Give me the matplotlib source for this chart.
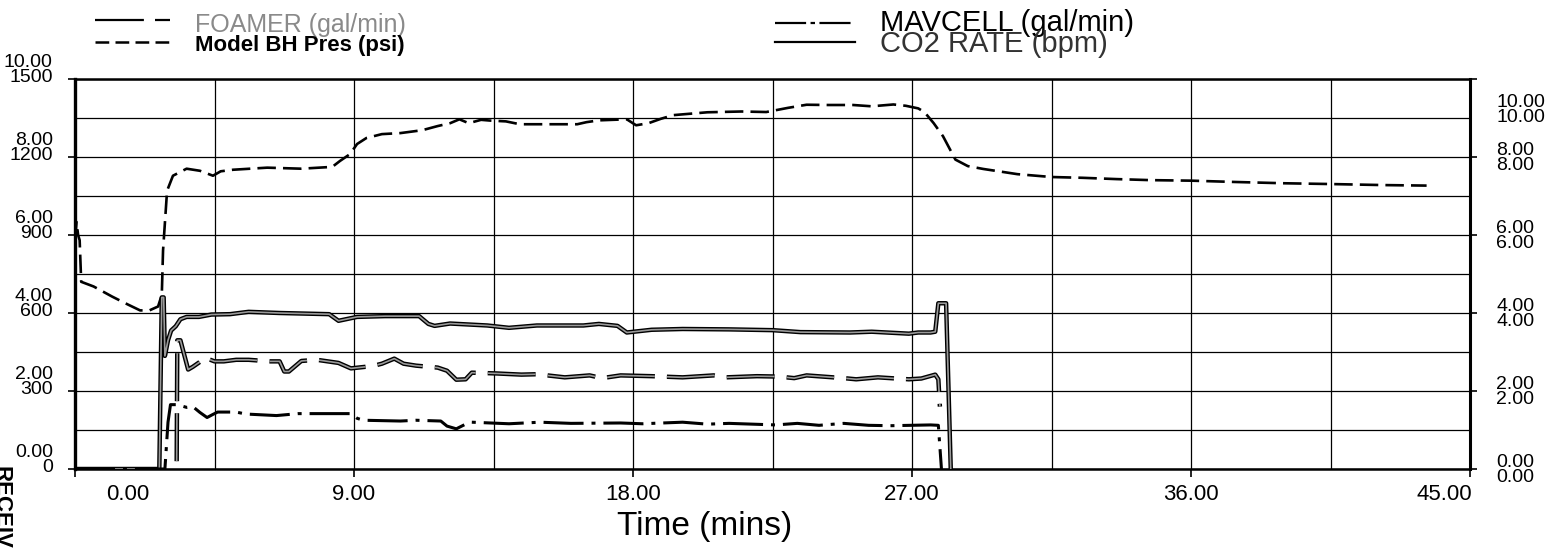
import numpy as np
import matplotlib.pyplot as plt
import matplotlib.patheffects as pe
from matplotlib.lines import Line2D
from matplotlib.transforms import ScaledTranslation

plt.rcParams['font.family'] = ['Liberation Sans', 'DejaVu Sans']

W, H = 1556, 548

# Model BH Pres (psi) - left axis
bh_time = [0.0, 0.05, 0.1, 0.15, 0.2, 0.6, 1.2, 1.7, 2.1, 2.4, 2.68, 2.8, 2.84, 2.97,
           3.16, 3.6, 4.03, 4.45, 4.7, 5.1, 6.2, 7.3, 8.3, 8.55, 8.87, 9.1, 9.4, 9.9,
           10.5, 11.2, 11.7, 12.1, 12.4, 12.7, 13.1, 13.4, 13.9, 14.35, 15.5, 16.2,
           16.5, 16.9, 17.8, 18.1, 18.5, 18.9, 19.3, 20.4, 21.5, 22.3, 23.0, 23.6,
           24.3, 25.1, 25.7, 26.4, 26.8, 27.2, 27.4, 27.7, 28.0, 28.2, 28.4, 28.8,
           29.3, 30.4, 31.5, 32.5, 33.6, 34.7, 36.0, 37.4, 39.0, 40.5, 42.2, 43.6]
bh_psi = [880, 950, 900, 880, 720, 702, 663, 633, 610, 610, 625, 670, 840, 1070,
          1128, 1155, 1147, 1128, 1145, 1151, 1159, 1155, 1162, 1185, 1211, 1250, 1273, 1288,
          1292, 1303, 1319, 1330, 1345, 1330, 1343, 1340, 1337, 1326, 1326, 1326,
          1334, 1341, 1345, 1322, 1330, 1347, 1361, 1372, 1375, 1373, 1389, 1401,
          1400, 1400, 1395, 1402, 1397, 1387, 1373, 1330, 1280, 1235, 1190, 1165,
          1154, 1134, 1123, 1120, 1115, 1111, 1109, 1104, 1099, 1096, 1092, 1090]

# CO2 RATE (bpm) - right axis
co2_time = [0.0, 2.72, 2.8, 2.86, 2.9, 3.0, 3.1, 3.25, 3.4, 3.6, 4.0, 4.4, 5.0, 5.6,
            6.6, 8.2, 8.5, 9.1, 10.0, 11.1, 11.4, 11.6, 12.1, 13.3, 14.0, 14.9, 16.4,
            16.9, 17.5, 17.8, 18.6, 19.6, 21.1, 22.5, 23.4, 25.0, 25.7, 26.9, 27.2,
            27.6, 27.75, 27.85, 28.1, 28.25]
co2_rate = [0.0, 0.0, 4.4, 4.4, 2.9, 3.3, 3.55, 3.66, 3.84, 3.9, 3.9, 3.96, 3.97, 4.03,
            4.0, 3.97, 3.8, 3.9, 3.92, 3.92, 3.72, 3.67, 3.73, 3.68, 3.62, 3.68, 3.68,
            3.72, 3.67, 3.5, 3.57, 3.59, 3.58, 3.56, 3.51, 3.5, 3.52, 3.47, 3.5,
            3.5, 3.52, 4.25, 4.25, 0.0]

# FOAMER (gal/min) - right axis
foam_time = [3.28, 3.3, 3.4, 3.45, 3.65, 3.8, 4.0, 4.2, 4.5, 4.8, 5.2, 5.6, 6.3, 6.6,
             6.75, 6.9, 7.3, 7.8, 8.5, 8.9, 9.6, 9.9, 10.3, 10.6, 11.0, 11.7, 12.0,
             12.3, 12.6, 12.8, 13.6, 14.4, 14.9, 15.8, 16.6, 17.0, 17.6, 18.6, 19.6,
             20.6, 21.0, 22.0, 22.7, 23.2, 23.6, 24.8, 25.2, 25.9, 26.9, 27.3, 27.75,
             27.85, 27.9]
foam_rate = [0.2, 3.3, 3.3, 3.15, 2.55, 2.62, 2.73, 2.85, 2.76, 2.76, 2.8, 2.8, 2.76, 2.76,
             2.5, 2.5, 2.77, 2.8, 2.72, 2.58, 2.64, 2.7, 2.83, 2.7, 2.65, 2.6, 2.52,
             2.29, 2.3, 2.47, 2.45, 2.42, 2.43, 2.35, 2.4, 2.33, 2.4, 2.38, 2.35,
             2.4, 2.35, 2.38, 2.37, 2.33, 2.4, 2.33, 2.3, 2.35, 2.3, 2.32, 2.42,
             2.3, 1.6]

# MAVCELL (gal/min) - right axis
mav_time = [0.0, 2.9, 3.0, 3.08, 3.3, 3.6, 3.8, 4.03, 4.26, 4.45, 4.6, 5.2, 5.5, 6.5,
            7.2, 8.2, 8.9, 9.1, 9.3, 10.5, 11.0, 11.8, 12.0, 12.3, 12.6, 12.8, 14.0,
            15.0, 16.0, 17.6, 18.3, 19.6, 20.4, 21.1, 22.6, 23.3, 24.0, 24.8, 25.6,
            26.3, 27.6, 27.85, 27.95]
mav_rate = [0.0, 0.0, 1.2, 1.65, 1.65, 1.58, 1.6, 1.45, 1.32, 1.4, 1.46, 1.46, 1.41, 1.37,
            1.42, 1.42, 1.42, 1.3, 1.25, 1.23, 1.25, 1.23, 1.1, 1.03, 1.15, 1.2, 1.16,
            1.2, 1.17, 1.18, 1.16, 1.2, 1.15, 1.17, 1.13, 1.17, 1.12, 1.17, 1.12,
            1.11, 1.13, 1.12, 0.0]

psi_ticks = [0, 300, 600, 900, 1200, 1500]
rate_ticks = [0, 2, 4, 6, 8, 10]
time_ticks = [0, 9, 18, 27, 36, 45]

fig = plt.figure(figsize=(W / 100, H / 100), dpi=100)
ax = fig.add_axes([75 / W, 1 - 469 / H, 1395 / W, 390 / H])
ax2 = ax.twinx()

ax.set_xlim(0, 45)
ax.set_ylim(0, 1500)
ax2.set_ylim(0, 10)

# grid every 4.5 min and every 150 psi
ax.set_xticks(time_ticks)
ax.set_xticks(np.arange(4.5, 45, 9), minor=True)
ax.set_yticks(psi_ticks)
ax.set_yticks(np.arange(150, 1500, 300), minor=True)
ax.grid(which='both', color='black', linewidth=0.9)
ax.tick_params(which='minor', length=0)
ax2.set_yticks(rate_ticks)

ax.set_yticklabels([f"{r:.2f}\n{p}" for r, p in zip(rate_ticks, psi_ticks)],
                   linespacing=0.85)
ax2.set_yticklabels([f"{r:.2f}\n{r:.2f}" for r in rate_ticks], linespacing=0.85)
ax.set_xticklabels([f"{t:.2f}" for t in time_ticks])

ax.tick_params(axis='y', which='major', direction='out', length=5, width=1.2,
               pad=11, labelsize=14)
ax2.tick_params(axis='y', direction='out', length=5, width=1.2, pad=14, labelsize=14)
ax.tick_params(axis='x', which='major', direction='out', length=6, width=1.2,
               pad=5, labelsize=16)

shift_up = ScaledTranslation(0, 10 / 100, fig.dpi_scale_trans)
for lab in ax.get_yticklabels():
    lab.set_transform(lab.get_transform() + shift_up)
rl = ax2.get_yticklabels()
rl[-1].set_transform(rl[-1].get_transform() + ScaledTranslation(0, -30 / 100, fig.dpi_scale_trans))
xl = ax.get_xticklabels()
xl[0].set_transform(xl[0].get_transform() + ScaledTranslation(53 / 100, 0, fig.dpi_scale_trans))
xl[-1].set_transform(xl[-1].get_transform() + ScaledTranslation(-26 / 100, 0, fig.dpi_scale_trans))

for s in ax.spines.values():
    s.set_linewidth(1.8)
ax.spines['left'].set_linewidth(2.4)
for name, s in ax2.spines.items():
    s.set_visible(name == 'right')
ax2.spines['right'].set_linewidth(2.2)

ax.set_xlabel('Time (mins)', fontsize=24)
ax.xaxis.set_label_coords((705 - 75) / 1395, -(527 - 469) / 390)
ax.xaxis.label.set_va('center')

hollow = [pe.Stroke(linewidth=3.2, foreground='black'), pe.Normal()]

ax.plot(bh_time, bh_psi, color='black', linewidth=1.9, dashes=(7.0, 2.7))
ax2.plot(co2_time, co2_rate, color='#9a9a9a', linewidth=1.2, path_effects=hollow)
ax2.plot(foam_time, foam_rate, color='#9a9a9a', linewidth=1.2, dashes=(28.8, 7.2),
         path_effects=hollow)
ax2.plot(mav_time, mav_rate, color='black', linewidth=2.2, dashes=(13.1, 2.6, 1.3, 2.6))


# legend rows drawn in figure pixels
def legend_row(x0, x1, y, tx, ty, text, size, color, weight='normal', **line_kw):
    fig.add_artist(Line2D([x0 / W, x1 / W], [1 - y / H] * 2, transform=fig.transFigure,
                          color='black', **line_kw))
    fig.text(tx / W, 1 - ty / H, text, fontsize=size, color=color, weight=weight,
             va='baseline', ha='left')


legend_row(95, 170, 20, 195, 32, 'FOAMER (gal/min)', 18, '#8a8a8a',
           linewidth=1.6, dashes=(22, 5, 7, 5))
legend_row(95, 170, 42, 195, 51, 'Model BH Pres (psi)', 16, 'black', 'bold',
           linewidth=1.8, dashes=(5.5, 2.5))
legend_row(775, 855, 23, 880, 31, 'MAVCELL (gal/min)', 21, 'black',
           linewidth=1.6, dashes=(14, 2, 2, 2))
legend_row(775, 855, 42, 880, 52, 'CO2 RATE (bpm)', 21, '#333333',
           linewidth=1.6)

# scanner stamp cut by the left edge
fig.text(-10 / W, 1 - 466 / H, 'RECEIVED', rotation=270, fontsize=16, weight='bold',
         ha='left', va='top')

fig.savefig('out.png', dpi=100)
